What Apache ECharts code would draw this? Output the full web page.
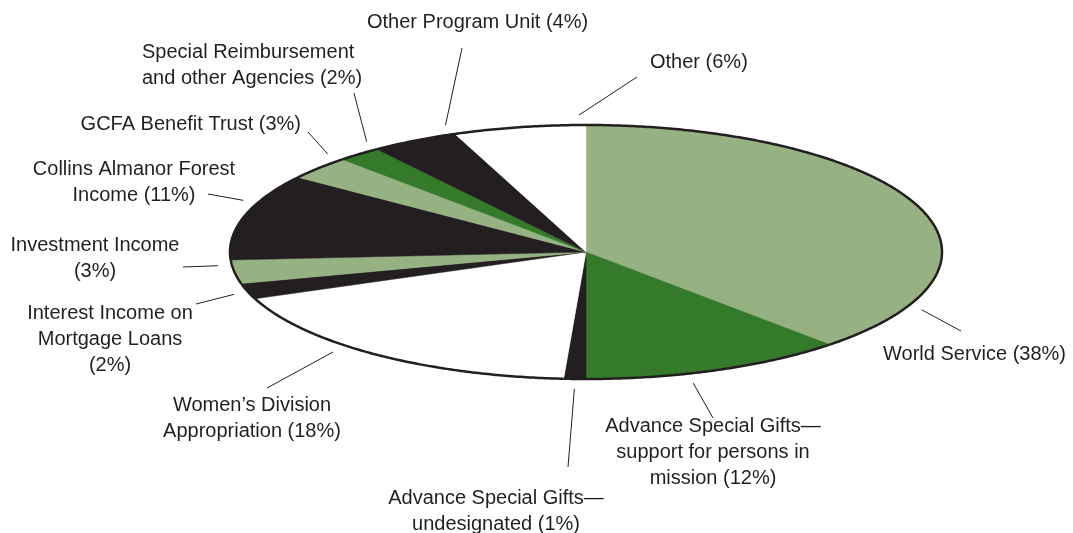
<!DOCTYPE html>
<html>
<head>
<meta charset="utf-8">
<script src="https://cdn.jsdelivr.net/npm/echarts/dist/echarts.min.js"></script>
<style>
  html, body { margin: 0; padding: 0; background: #fff; }
  #chart { width: 1073px; height: 533px; }
</style>
</head>
<body>
<div id="chart"></div>
<script>
// slices, clockwise from 12 o'clock
const categories = [
  'World Service (38%)',
  'Advance Special Gifts—\nsupport for persons in\nmission (12%)',
  'Advance Special Gifts—\nundesignated (1%)',
  'Women\u2019s Division\nAppropriation (18%)',
  'Interest Income on\nMortgage Loans\n(2%)',
  'Investment Income\n(3%)',
  'Collins Almanor Forest\nIncome (11%)',
  'GCFA Benefit Trust (3%)',
  'Special Reimbursement\nand other Agencies (2%)',
  'Other Program Unit (4%)',
  'Other (6%)'
]
const values = [38, 12, 1, 18, 2, 3, 11, 3, 2, 4, 6]

// colours of the slices
const lightGreen = '#96b282'
const darkGreen = '#357a2b'
const black = '#231f20'
const sliceColors = [lightGreen, darkGreen, black, '#ffffff', black, lightGreen, black, lightGreen, darkGreen, black, '#ffffff']

// label placement: f = where on the slice arc the leader starts (0..1),
// end = leader end near the text, pos = text anchor, align = text alignment
const labelLayout = [
  { f: 0.84, end: [961, 331], pos: [883, 354], align: 'left' },
  { f: 0.61, end: [713, 418], pos: [713, 452], align: 'center' },
  { f: 0.5, end: [568, 467], pos: [496, 511], align: 'center' },
  { f: 0.61, end: [267, 388], pos: [252, 418], align: 'center' },
  { f: 0.5, end: [196, 304], pos: [110, 339], align: 'center' },
  { f: 0.8, end: [183, 267], pos: [95, 258], align: 'center' },
  { f: 0.65, end: [208, 194], pos: [134, 182], align: 'center' },
  { f: 0.9, end: [308, 132], pos: [301, 124], align: 'right' },
  { f: 0.95, end: [354, 93], pos: [142, 65], align: 'left' },
  { f: 0.95, end: [462, 48], pos: [367, 22], align: 'left' },
  { f: 0.95, end: [637, 77], pos: [650, 62], align: 'left' }
]

// ellipse (tilted pie)
const cx = 586
const cy = 252
const rx = 356
const ry = 127

function ellipsePoint (deg, ex, ey) {
  const a = deg * Math.PI / 180
  return [cx + (rx + ex) * Math.sin(a), cy - (ry + ey) * Math.cos(a)]
}

const total = values.reduce((a, b) => a + b, 0)

function renderItem (params, api) {
  const i = params.dataIndex
  let before = 0
  for (let k = 0; k < i; k++) before += values[k]
  const a0 = before / total * 360
  const a1 = (before + api.value(0)) / total * 360
  const steps = Math.max(2, Math.ceil((a1 - a0) * 2))
  const arc = []
  for (let s = 0; s <= steps; s++) {
    arc.push(ellipsePoint(a0 + (a1 - a0) * s / steps, 0, 0))
  }
  const lay = labelLayout[i]
  const start = ellipsePoint(a0 + (a1 - a0) * lay.f, 14, 10)
  return {
    type: 'group',
    children: [
      {
        type: 'polygon',
        shape: { points: [[cx, cy]].concat(arc) },
        style: { fill: sliceColors[i], stroke: sliceColors[i], lineWidth: 0.5 }
      },
      {
        type: 'polyline',
        z2: 5,
        shape: { points: arc },
        style: { stroke: black, lineWidth: 2.5, fill: null }
      },
      {
        type: 'polyline',
        shape: { points: [start, lay.end] },
        style: { stroke: black, lineWidth: 1, fill: null }
      },
      {
        type: 'text',
        x: lay.pos[0],
        y: lay.pos[1],
        style: {
          text: categories[i],
          fill: black,
          fontSize: 20,
          fontFamily: 'Liberation Sans, Arial, sans-serif',
          lineHeight: 26,
          align: lay.align,
          textAlign: lay.align,
          verticalAlign: 'middle',
          textVerticalAlign: 'middle'
        }
      }
    ]
  }
}

const chart = echarts.init(document.getElementById('chart'))
chart.setOption({
  animation: false,
  series: [{
    type: 'custom',
    coordinateSystem: 'none',
    renderItem: renderItem,
    data: values.map(v => [v])
  }]
})
</script>
</body>
</html>
